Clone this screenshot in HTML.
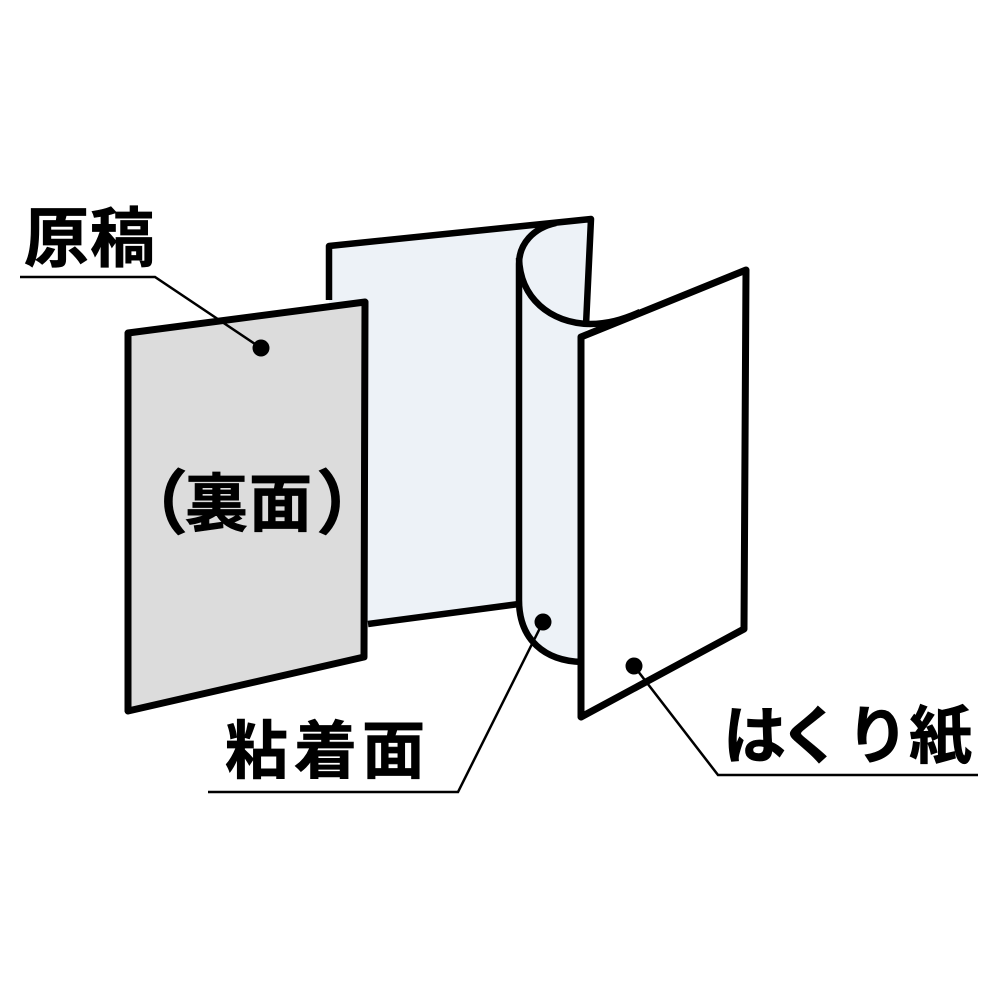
<!DOCTYPE html>
<html><head><meta charset="utf-8"><style>html,body{margin:0;padding:0;background:#fff}svg{display:block}text{font-family:"Liberation Sans","Noto Sans CJK JP",sans-serif;font-weight:700;fill:#000;stroke:#000;stroke-width:.7}</style></head>
<body>
<svg width="1001" height="1001" viewBox="0 0 1001 1001" xmlns="http://www.w3.org/2000/svg">
<rect width="1001" height="1001" fill="#fff"/>
<!-- back sheet -->
<path d="M329 246 L591 219 L586 325 L519 325 L519 604 L368 624 L329 620 Z" fill="#edf2f7"/>
<path d="M329 300 L329 246 L591 219 L586 325" fill="none" stroke="#000" stroke-width="6.5" stroke-linejoin="round"/>
<path d="M368 624 L519 604" fill="none" stroke="#000" stroke-width="6.5"/>
<!-- curl -->
<path d="M519 262 C520 300 550 323 590 324 L581 340 L581 662 C545 661 519 640 519 600 Z" fill="#edf2f7"/>
<path d="M556 223 C533 228 519 244 519 264 L519 600 C519 640 545 661 582 662" fill="none" stroke="#000" stroke-width="6.5"/>
<path d="M519 258 C520 298 550 323 590 324 C607 324 622 320 640 312" fill="none" stroke="#000" stroke-width="6.5"/>
<!-- release paper -->
<path d="M581 337 L746 270 L744 629 L581 717 Z" fill="#fff" stroke="#000" stroke-width="7" stroke-linejoin="round"/>
<!-- original -->
<path d="M128 333 L365 302 L364 657 L128 711 Z" fill="#dcdcdc" stroke="#000" stroke-width="7" stroke-linejoin="round"/>
<!-- leaders -->
<path d="M20 277 L155 277 L261 348" fill="none" stroke="#000" stroke-width="2.5"/>
<circle cx="261" cy="348" r="8.5" fill="#000"/>
<path d="M208 792 L458 792 L543 622" fill="none" stroke="#000" stroke-width="2.5"/>
<circle cx="543" cy="622" r="8.5" fill="#000"/>
<path d="M634 666 L718 775 L978 775" fill="none" stroke="#000" stroke-width="2.5"/>
<circle cx="634" cy="666" r="8.5" fill="#000"/>
<!-- labels -->
<text x="24" y="261" font-size="65">原</text>
<text x="90" y="261" font-size="65">稿</text>
<text x="118" y="528" font-size="70">（</text>
<text x="185" y="526" font-size="63">裏</text>
<text x="249" y="526" font-size="63">面</text>
<text x="316" y="528" font-size="70">）</text>
<text x="225" y="773" font-size="63">粘</text>
<text x="294" y="773" font-size="63">着</text>
<text x="362" y="773" font-size="63">面</text>
<text x="723" y="758" font-size="63">は</text>
<text x="779" y="758" font-size="63">く</text>
<text x="846" y="758" font-size="63">り</text>
<text x="909" y="758" font-size="63">紙</text>
</svg>
</body></html>
